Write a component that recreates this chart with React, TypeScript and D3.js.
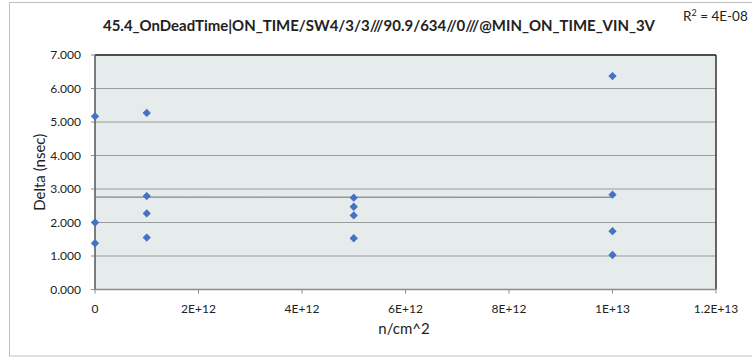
import React from "react";
import * as d3 from "d3";

const xValues = [0, 0, 0, 1e12, 1e12, 1e12, 1e12, 5e12, 5e12, 5e12, 5e12, 1e13, 1e13, 1e13, 1e13];
const yValues = [5.17, 2.0, 1.38, 5.27, 2.79, 2.27, 1.55, 2.74, 2.47, 2.21, 1.53, 6.37, 2.83, 1.74, 1.03];
const xTicks = [0, 2e12, 4e12, 6e12, 8e12, 1e13, 1.2e13];
const xTickLabels = ["0", "2E+12", "4E+12", "6E+12", "8E+12", "1E+13", "1.2E+13"];
const yTicks = [0, 1, 2, 3, 4, 5, 6, 7];
const title = "45.4_OnDeadTime|ON_TIME/SW4/3/3///90.9/634//0///@MIN_ON_TIME_VIN_3V";
const xLabel = "n/cm^2";
const yLabel = "Delta (nsec)";

export default function App() {
  const W = 752, H = 359;
  const left = 95, right = 716, top = 55, bottom = 289.5;
  const x = d3.scaleLinear().domain([0, 1.2e13]).range([left, right]);
  const y = d3.scaleLinear().domain([0, 7]).range([bottom, top]);

  // linear regression trendline
  const n = xValues.length;
  const mx = d3.mean(xValues)!;
  const my = d3.mean(yValues)!;
  let sxy = 0, sxx = 0;
  for (let i = 0; i < n; i++) {
    sxy += (xValues[i] - mx) * (yValues[i] - my);
    sxx += (xValues[i] - mx) ** 2;
  }
  const slope = sxy / sxx;
  const intercept = my - slope * mx;
  const x0 = d3.min(xValues)!, x1 = d3.max(xValues)!;

  const diamond = d3.symbol().type(d3.symbolDiamond2).size(44)();
  const font = "Lato, 'Open Sans', sans-serif";

  return (
    <svg width={W} height={H} style={{ position: "absolute", left: 0, top: 0 }} fontFamily={font}>
      <rect x={0} y={0} width={W} height={H} fill="#fff" />
      <rect x={9.5} y={2.5} width={760} height={353.5} fill="#fff" stroke="#bfbfbf" strokeWidth={1} />
      <text x={379} y={31} textAnchor="middle" fontWeight="bold" fontSize={15} fill="#222" textLength={552} lengthAdjust="spacingAndGlyphs">{title}</text>
      <text x={683} y={21} fontSize={13.5} fill="#222">R<tspan fontSize={9} dy={-5}>2</tspan><tspan dy={5}> = 4E-08</tspan></text>
      <rect x={left} y={top} width={right - left} height={bottom - top} fill="#e6ebeb" />
      {yTicks.slice(1).map((t) => (
        <line key={t} x1={left} x2={right} y1={y(t)} y2={y(t)} stroke="#9b9b9b" strokeWidth={1} />
      ))}
      {/* plot border */}
      <line x1={left} x2={right} y1={top} y2={top} stroke="#222" strokeWidth={1.5} />
      <line x1={right} x2={right} y1={top} y2={bottom} stroke="#333" strokeWidth={1.5} />
      <line x1={left} x2={left} y1={top} y2={bottom} stroke="#555" strokeWidth={1.5} />
      <line x1={left} x2={right} y1={bottom} y2={bottom} stroke="#8c8c8c" strokeWidth={1.5} />
      {yTicks.map((t) => (
        <g key={t}>
          <line x1={left - 4} x2={left} y1={y(t)} y2={y(t)} stroke="#8c8c8c" />
          <text x={81} y={y(t) + 4} textAnchor="end" fontSize={12} fill="#222">{t.toFixed(3)}</text>
        </g>
      ))}
      {xTicks.map((t, i) => (
        <g key={t}>
          <line x1={x(t)} x2={x(t)} y1={bottom} y2={bottom + 4} stroke="#8c8c8c" />
          <text x={x(t)} y={313} textAnchor="middle" fontSize={12} fill="#222">{xTickLabels[i]}</text>
        </g>
      ))}
      <line x1={x(x0)} x2={x(x1)} y1={y(intercept + slope * x0)} y2={y(intercept + slope * x1)} stroke="#6f6f6f" strokeWidth={1} />
      {xValues.map((xv, i) => (
        <path key={i} d={diamond!} transform={`translate(${x(xv)},${y(yValues[i])})`} fill="#4472c4" />
      ))}
      <text x={404} y={334} textAnchor="middle" fontSize={15} fill="#222">{xLabel}</text>
      <text transform={`translate(45,${(top + bottom) / 2}) rotate(-90)`} textAnchor="middle" fontSize={15} fill="#222">{yLabel}</text>
    </svg>
  );
}
